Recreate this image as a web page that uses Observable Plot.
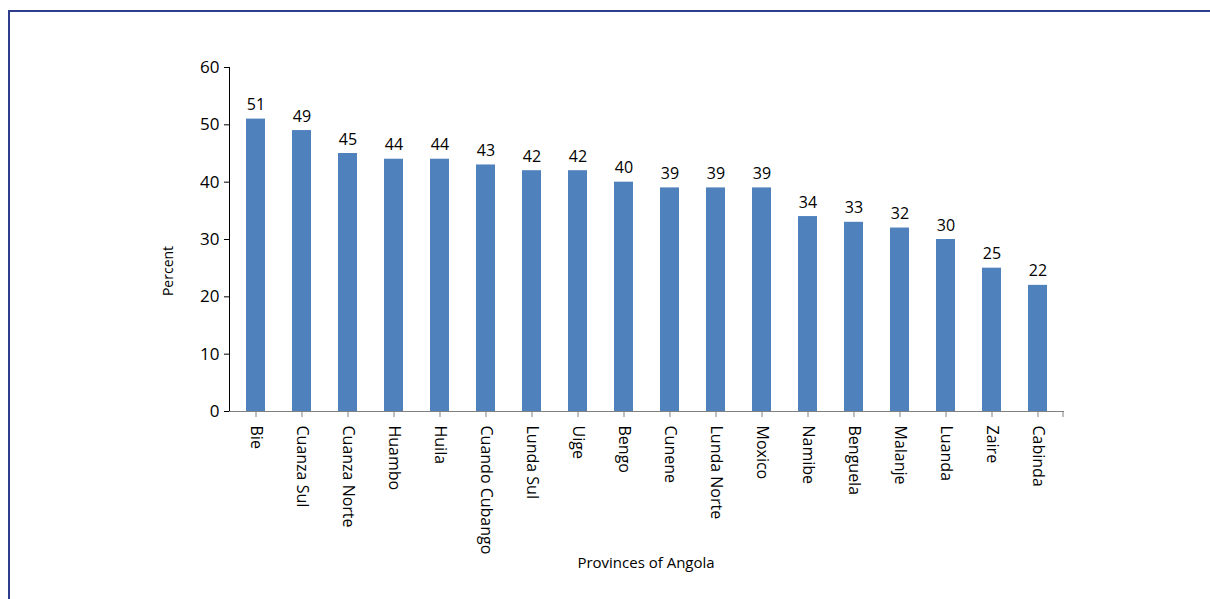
<!DOCTYPE html>
<html>
<head>
<meta charset="utf-8">
<script src="https://cdn.jsdelivr.net/npm/d3@7"></script>
<script src="https://cdn.jsdelivr.net/npm/@observablehq/plot@0.6"></script>
<style>
  html, body { margin: 0; padding: 0; background: #fff; overflow: hidden; width: 1210px; height: 599px; }
  #frame { position: absolute; left: 8px; top: 10px; width: 1400px; height: 800px; border: 2px solid #2e3d8c; box-sizing: border-box; }
  #chart { position: absolute; left: 0; top: 0; }
</style>
</head>
<body>
<div id="frame"></div>
<div id="chart"></div>
<script>
const provinces = ["Bie", "Cuanza Sul", "Cuanza Norte", "Huambo", "Huila", "Cuando Cubango", "Lunda Sul", "Uige", "Bengo", "Cunene", "Lunda Norte", "Moxico", "Namibe", "Benguela", "Malanje", "Luanda", "Zaire", "Cabinda"];
const percents = [51, 49, 45, 44, 44, 43, 42, 42, 40, 39, 39, 39, 34, 33, 32, 30, 25, 22];
const yTicks = [0, 10, 20, 30, 40, 50, 60];
const xTitle = "Provinces of Angola";
const yTitle = "Percent";

const data = provinces.map((p, i) => ({province: p, value: percents[i]}));

const chart = Plot.plot({
  width: 1210,
  height: 599,
  marginLeft: 229,
  marginRight: 147,
  marginTop: 67,
  marginBottom: 188,
  style: {fontFamily: "'Open Sans', sans-serif", fontSize: "16px", color: "#000", background: "transparent"},
  x: {domain: provinces, paddingInner: 0.59, paddingOuter: 0.295, label: null},
  y: {domain: [0, 60], label: null},
  marks: [
    Plot.barY(data, {x: "province", y: "value", fill: "#4f81bd"}),
    Plot.text(data, {x: "province", y: "value", text: d => String(d.value), dy: -14, fontSize: 16, fill: "#000"}),
    Plot.frame({anchor: "left", stroke: "#000"}),
    Plot.frame({anchor: "bottom", stroke: "#808080"}),
    Plot.axisY({ticks: yTicks, tickSize: 5, tickPadding: 5, label: null, fontSize: 17, stroke: "#000", fill: "#000"}),
    Plot.axisX({tickRotate: 90, tickSize: 6, tickPadding: 8, label: null, fontSize: 16, stroke: "#808080", fill: "#000"})
  ]
});

document.getElementById("chart").appendChild(chart);

const svg = d3.select(chart);
// end tick at the right end of the category axis
svg.append("line")
  .attr("x1", 1063).attr("x2", 1063)
  .attr("y1", 411).attr("y2", 417)
  .attr("stroke", "#808080");
svg.append("text")
  .attr("x", 646).attr("y", 568)
  .attr("text-anchor", "middle")
  .attr("font-size", 15)
  .attr("fill", "#000")
  .text(xTitle);
svg.append("text")
  .attr("transform", "translate(173,271) rotate(-90)")
  .attr("text-anchor", "middle")
  .attr("font-size", 14)
  .attr("fill", "#000")
  .text(yTitle);
</script>
</body>
</html>
